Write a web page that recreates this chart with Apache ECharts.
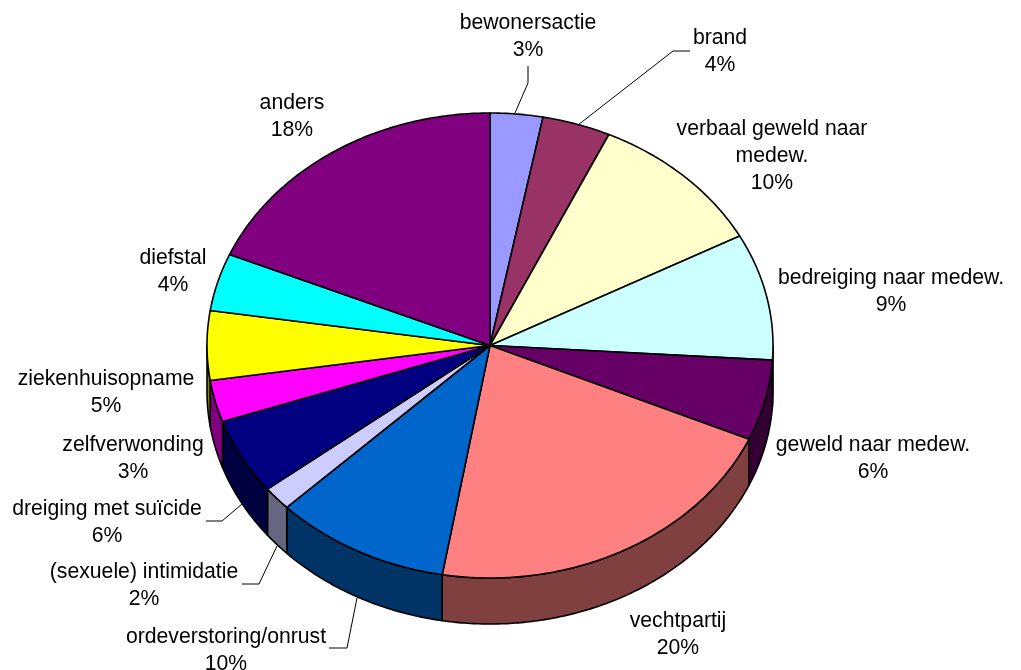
<!DOCTYPE html>
<html><head><meta charset="utf-8">
<style>html,body{margin:0;padding:0;background:#fff}#c{width:1021px;height:670px}</style>
<script src="https://cdn.jsdelivr.net/npm/echarts@6/dist/echarts.min.js"></script>
</head><body><div id="c"></div>
<script>
const categories = ['bewonersactie','brand','verbaal geweld naar\nmedew.','bedreiging naar medew.','geweld naar medew.','vechtpartij','ordeverstoring/onrust','(sexuele) intimidatie','dreiging met suïcide','zelfverwonding','ziekenhuisopname','diefstal','anders'];
const values = [3.0,3.9,10.3,8.8,5.6,21.1,10.05,1.65,5.3,2.9,4.8,4.0,18.6];
const percentLabels = ['3%','4%','10%','9%','6%','20%','10%','2%','6%','3%','5%','4%','18%'];
const colors = ['#9999FF','#993366','#FFFFCC','#CCFFFF','#660066','#FF8080','#0066CC','#CCCCFF','#000080','#FF00FF','#FFFF00','#00FFFF','#800080'];
const labelCentres = [[528,37],[720,52],[772,156.5],[891,292],[873,459],[678,635],[226,651],[144,586],[107,522.5],[133,459],[106,393],[173,272],[292,117]];
const leaders = [[[528,66],[528,83],[515,113]],[[690,51],[673,51],[578,125]],null,null,null,null,[[329,648],[347,648],[357,598]],[[242,584],[259,584],[277,546]],[[206,521],[222,521],[242,504]],null,null,null,null];

const cx = 490, cy = 345.5, rx = 283, ry = 232.5, depth = 46;
const total = values.reduce((a,b)=>a+b,0);
const starts = []; let acc = 0;
values.forEach(v=>{starts.push(acc/total*Math.PI*2); acc+=v;});
const ends = values.map((v,i)=>starts[i]+v/total*Math.PI*2);
const pt = (t,dy)=>[cx+rx*Math.sin(t), cy-ry*Math.cos(t)+(dy||0)];
function arc(a,b,dy){const n=Math.max(2,Math.ceil((b-a)/0.01));const r=[];for(let i=0;i<=n;i++)r.push(pt(a+(b-a)*i/n,dy));return r;}
function dark(h){const n=parseInt(h.slice(1),16);const f=c=>Math.round(c/2);return `rgb(${f(n>>16&255)},${f(n>>8&255)},${f(n&255)})`;}
const stroke={stroke:'#000',lineWidth:1.6,lineJoin:'round'};

const chart = echarts.init(document.getElementById('c'),null,{renderer:'canvas'});
chart.setOption({
  animation:false,
  backgroundColor:'#fff',
  series:[
    {type:'custom',coordinateSystem:'none',silent:true,data:values,
     renderItem(p){const i=p.dataIndex;
       const a=Math.max(starts[i],Math.PI/2),b=Math.min(ends[i],Math.PI*1.5);
       if(b<=a) return {type:'group',children:[]};
       const pts=arc(a,b,0).concat(arc(a,b,depth).reverse());
       return {type:'polygon',shape:{points:pts},style:Object.assign({fill:dark(colors[i])},stroke)};
     }},
    {type:'custom',coordinateSystem:'none',silent:true,data:values,
     renderItem(p){const i=p.dataIndex;
       const pts=[[cx,cy]].concat(arc(starts[i],ends[i],0));
       return {type:'polygon',shape:{points:pts},style:Object.assign({fill:colors[i]},stroke)};
     }},
    {type:'custom',coordinateSystem:'none',silent:true,data:categories,
     renderItem(p){const i=p.dataIndex;const ch=[];
       if(leaders[i]) ch.push({type:'polyline',shape:{points:leaders[i]},style:{stroke:'#000',lineWidth:1,fill:null}});
       ch.push({type:'text',style:{text:categories[i]+'\n'+percentLabels[i],x:labelCentres[i][0],y:labelCentres[i][1],align:'center',verticalAlign:'middle',font:'21.2px "Liberation Sans", Arial, sans-serif',lineHeight:27,fill:'#000'}});
       return {type:'group',children:ch};
     }}
  ]
});
</script></body></html>
